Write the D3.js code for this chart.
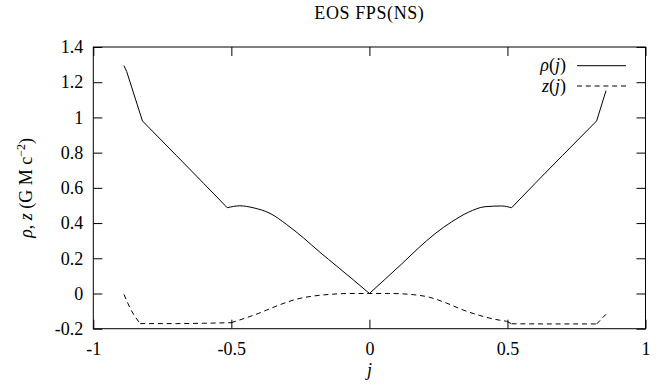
<!DOCTYPE html>
<html>
<head>
<meta charset="utf-8">
<script src="https://cdn.jsdelivr.net/npm/d3@7"></script>
<style>
  body { margin: 0; background: #fff; }
  svg { display: block; }
  text { font-family: "Liberation Serif", "DejaVu Serif", serif; fill: #000; }
</style>
</head>
<body>
<svg id="chart" width="659" height="387"></svg>
<script>
// values
const rhoJ = [-0.889, -0.879, -0.822, -0.70, -0.60, -0.515, -0.469, -0.421, -0.36, -0.30, -0.239, -0.179, -0.118, -0.058, 0,
              0.056, 0.117, 0.177, 0.238, 0.298, 0.358, 0.419, 0.479, 0.515, 0.60, 0.70, 0.823, 0.857]
const rhoV = [1.294, 1.26, 0.98, 0.785, 0.625, 0.487, 0.498, 0.487, 0.455, 0.392, 0.316, 0.234, 0.155, 0.077, 0,
              0.080, 0.168, 0.257, 0.340, 0.407, 0.461, 0.493, 0.497, 0.487, 0.625, 0.785, 0.98, 1.152]
// indices where rho has a corner
const rhoKinks = [0, 1, 2, 5, 14, 23, 26, 27]

const zJ = [-0.889, -0.861, -0.83, -0.70, -0.60, -0.501, -0.45, -0.40, -0.372, -0.30, -0.263, -0.20, -0.143, -0.07, 0,
            0.07, 0.147, 0.219, 0.28, 0.34, 0.40, 0.45, 0.497, 0.515, 0.70, 0.823, 0.857]
const zV = [-0.005, -0.10, -0.171, -0.171, -0.169, -0.166, -0.14, -0.112, -0.094, -0.05, -0.032, -0.014, -0.005, 0, 0,
            0, -0.005, -0.022, -0.055, -0.094, -0.125, -0.145, -0.158, -0.172, -0.173, -0.173, -0.118]
const zKinks = [0, 2, 5, 22, 23, 25, 26]

const xTicks = [-1, -0.5, 0, 0.5, 1]
const yTicks = [-0.2, 0, 0.2, 0.4, 0.6, 0.8, 1, 1.2, 1.4]

const series = [
    { name: 'rho', label: ['ρ', '(', 'j', ')'], j: rhoJ, v: rhoV, kinks: rhoKinks, dash: null },
    { name: 'z', label: ['z', '(', 'j', ')'], j: zJ, v: zV, kinks: zKinks, dash: '5,3.8' },
]

const width = 659, height = 387
const margin = { top: 47, right: 13.5, bottom: 58.3, left: 93.3 }
const fontSize = 18

const svg = d3.select('#chart')

const x = d3.scaleLinear().domain([-1, 1]).range([margin.left, width - margin.right])
const y = d3.scaleLinear().domain([-0.2, 1.4]).range([height - margin.bottom, margin.top])

const fmt = d => String(+d.toFixed(2))
const tick = 9

// axes, ticks pointing inward on all four sides
const gx = svg.append('g')
    .attr('transform', `translate(0,${y(-0.2)})`)
    .call(d3.axisBottom(x).tickValues(xTicks).tickSizeInner(-tick).tickSizeOuter(0).tickPadding(14).tickFormat(fmt))
const gxTop = svg.append('g')
    .attr('transform', `translate(0,${y(1.4)})`)
    .call(d3.axisTop(x).tickValues(xTicks).tickSizeInner(-tick).tickSizeOuter(0).tickFormat(''))
const gy = svg.append('g')
    .attr('transform', `translate(${x(-1)},0)`)
    .call(d3.axisLeft(y).tickValues(yTicks).tickSizeInner(-tick).tickSizeOuter(0).tickPadding(10).tickFormat(fmt))
const gyRight = svg.append('g')
    .attr('transform', `translate(${x(1)},0)`)
    .call(d3.axisRight(y).tickValues(yTicks).tickSizeInner(-tick).tickSizeOuter(0).tickFormat(''))

;[gx, gxTop, gy, gyRight].forEach(g => {
    g.attr('font-family', null)
    g.select('.domain').remove()
    g.selectAll('line').attr('stroke', '#000').attr('stroke-width', 1)
    g.selectAll('text')
        .attr('font-size', fontSize)
        .attr('fill', '#000')
})

// frame
svg.append('rect')
    .attr('x', x(-1))
    .attr('y', y(1.4))
    .attr('width', x(1) - x(-1))
    .attr('height', y(-0.2) - y(1.4))
    .attr('fill', 'none')
    .attr('stroke', '#000')
    .attr('stroke-width', 1)

// curves: smooth between corners, sharp at the corners
const line = d3.line()
    .x(d => x(d[0]))
    .y(d => y(d[1]))
    .curve(d3.curveMonotoneX)

series.forEach(s => {
    const pts = s.j.map((j, i) => [j, s.v[i]])
    const g = svg.append('g').attr('class', 'curve-' + s.name)
    for (let k = 0; k < s.kinks.length - 1; k += 1) {
        g.append('path')
            .datum(pts.slice(s.kinks[k], s.kinks[k + 1] + 1))
            .attr('d', line)
            .attr('fill', 'none')
            .attr('stroke', '#000')
            .attr('stroke-width', 1)
            .attr('stroke-dasharray', s.dash)
    }
})

// legend
const legY = [65.7, 86]
series.forEach((s, i) => {
    const t = svg.append('text')
        .attr('x', 566)
        .attr('y', legY[i] + 5.5)
        .attr('text-anchor', 'end')
        .attr('font-size', fontSize)
    t.append('tspan').attr('font-style', 'italic').text(s.label[0])
    t.append('tspan').text(s.label[1])
    t.append('tspan').attr('font-style', 'italic').text(s.label[2])
    t.append('tspan').text(s.label[3])
    svg.append('line')
        .attr('x1', 577).attr('x2', 626)
        .attr('y1', legY[i]).attr('y2', legY[i])
        .attr('stroke', '#000')
        .attr('stroke-width', 1)
        .attr('stroke-dasharray', s.dash)
})

// title
svg.append('text')
    .attr('x', x(0))
    .attr('y', 19)
    .attr('text-anchor', 'middle')
    .attr('font-size', fontSize)
    .attr('letter-spacing', 0.6)
    .text('EOS FPS(NS)')

// axis titles
svg.append('text')
    .attr('x', x(0))
    .attr('y', 376)
    .attr('text-anchor', 'middle')
    .attr('font-size', fontSize)
    .attr('font-style', 'italic')
    .text('j')

const yl = svg.append('text')
    .attr('transform', `translate(32,${(y(-0.2) + y(1.4)) / 2}) rotate(-90)`)
    .attr('text-anchor', 'middle')
    .attr('font-size', fontSize)
yl.append('tspan').attr('font-style', 'italic').text('ρ')
yl.append('tspan').text(', ')
yl.append('tspan').attr('font-style', 'italic').text('z')
yl.append('tspan').text(' (G M c')
yl.append('tspan').attr('font-size', 12).attr('dy', -7).text('−2')
yl.append('tspan').attr('dy', 7).text(')')
</script>
</body>
</html>
